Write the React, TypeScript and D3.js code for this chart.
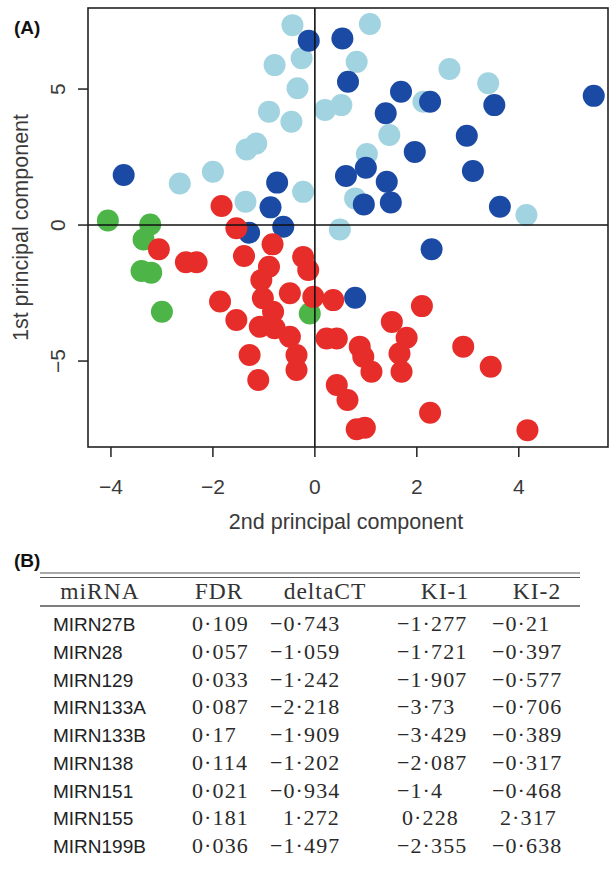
import React from "react";
import * as d3 from "d3";

// ---- Scatter data (2nd PC = x, 1st PC = y) ----
const lightBlueX = [-0.44, -0.26, -0.79, -0.34, -0.90, -0.46, -1.15, -1.34, -2.00, -2.65, -0.23, -1.36, 1.08, 0.82, 2.64, 3.40, 0.20, 0.52, 2.13, 1.46, 1.02, 0.79, 4.15, 0.49];
const lightBlueY = [7.35, 6.13, 5.88, 5.03, 4.17, 3.80, 3.00, 2.78, 1.96, 1.53, 1.22, 0.86, 7.39, 6.00, 5.74, 5.21, 4.23, 4.41, 4.53, 3.31, 2.61, 0.98, 0.37, -0.16];

const darkBlueX = [-0.12, 0.54, 0.65, 1.69, 2.26, 3.52, 5.47, 1.39, 2.98, 1.96, 3.10, 0.61, 1.00, 1.41, 0.96, 1.49, 3.63, 2.29, 0.79, -3.75, -0.74, -0.87, -0.62, -1.29];
const darkBlueY = [6.78, 6.86, 5.27, 4.90, 4.53, 4.41, 4.75, 4.11, 3.28, 2.69, 1.99, 1.80, 2.11, 1.59, 0.76, 0.83, 0.67, -0.89, -2.67, 1.84, 1.56, 0.65, -0.06, -0.28];

const redX = [-1.83, -1.54, -3.06, -2.53, -2.32, -1.39, -0.83, -0.23, -0.13, -0.90, -1.05, -1.02, -0.49, -0.03, -1.86, -1.54, -0.82, -1.08, -0.79, -0.49, -0.36, -0.36, -1.28, -1.11, 0.36, 2.10, 1.51, 1.80, 0.23, 0.43, 0.88, 0.95, 1.11, 1.66, 1.70, 2.91, 3.45, 0.43, 0.64, 2.26, 0.82, 0.98, 4.17];
const redY = [0.70, -0.12, -0.89, -1.37, -1.37, -1.14, -0.71, -1.17, -1.65, -1.53, -2.02, -2.69, -2.51, -2.64, -2.81, -3.49, -3.19, -3.74, -3.79, -4.11, -4.78, -5.33, -4.78, -5.70, -2.76, -2.98, -3.56, -4.14, -4.17, -4.17, -4.47, -4.84, -5.39, -4.72, -5.39, -4.47, -5.21, -5.88, -6.43, -6.90, -7.51, -7.45, -7.54];

const greenX = [-4.06, -3.23, -3.36, -3.40, -3.21, -3.00, -0.10];
const greenY = [0.17, 0.02, -0.53, -1.69, -1.75, -3.19, -3.25];

const xTicks = [-4, -2, 0, 2, 4];
const yTicks = [-5, 0, 5];

// ---- Table data ----
const tableHeaders = ["miRNA", "FDR", "deltaCT", "KI-1", "KI-2"];
const mirna = ["MIRN27B", "MIRN28", "MIRN129", "MIRN133A", "MIRN133B", "MIRN138", "MIRN151", "MIRN155", "MIRN199B"];
const fdr = [0.109, 0.057, 0.033, 0.087, 0.17, 0.114, 0.021, 0.181, 0.036];
const deltaCT = [-0.743, -1.059, -1.242, -2.218, -1.909, -1.202, -0.934, 1.272, -1.497];
const ki1 = [-1.277, -1.721, -1.907, -3.73, -3.429, -2.087, -1.4, 0.228, -2.355];
const ki2 = [-0.21, -0.397, -0.577, -0.706, -0.389, -0.317, -0.468, 2.317, -0.638];

const COLORS = {
  lightBlue: "#a2d3e0",
  darkBlue: "#1b4aa4",
  red: "#e62d2a",
  green: "#4db548",
};

const fmt = (v: number) => String(v).replace("-", "\u2212").replace(".", "\u00b7");

export default function App() {
  const W = 610;
  const H = 878;
  const left = 88, right = 608, top = 8, bottom = 447;

  const x = d3.scaleLinear().domain([-4.45, 5.75]).range([left, right]);
  const y = d3.scaleLinear().domain([-8.16, 7.98]).range([bottom, top]);

  const R = 11;
  const series = [
    { xs: lightBlueX, ys: lightBlueY, color: COLORS.lightBlue },
    { xs: darkBlueX, ys: darkBlueY, color: COLORS.darkBlue },
    { xs: greenX, ys: greenY, color: COLORS.green },
    { xs: redX, ys: redY, color: COLORS.red },
  ];

  const sans = "Liberation Sans, Arial, Helvetica, sans-serif";
  const serif = "Liberation Serif, Times New Roman, serif";
  const axisColor = "#3a3a3a";

  // table layout
  const tLeft = 40, tRight = 580;
  const headerY = 599;
  const rowY0 = 631;
  const rowStep = 27.75;
  const colStart = [53, 192, 270, 397, 492];
  const colHeaderCenter = [100, 219, 325, 445, 537];
  const posIndent = [0, 0, 13, 5, 8];
  const valueCols = [fdr, deltaCT, ki1, ki2];

  return (
    <svg width={W} height={H} style={{ position: "absolute", left: 0, top: 0, background: "#fff" }}>
      <rect x={0} y={0} width={W} height={H} fill="#fff" />
      {/* Panel A label */}
      <text x={14} y={34} fontFamily={sans} fontWeight="bold" fontSize={19} fill="#111">(A)</text>

      <defs>
        <clipPath id="plotclip">
          <rect x={left} y={top} width={right - left} height={bottom - top} />
        </clipPath>
      </defs>

      {/* points */}
      <g clipPath="url(#plotclip)">
        {series.map((s, si) =>
          s.xs.map((vx, i) => (
            <circle key={si + "-" + i} cx={x(vx)} cy={y(s.ys[i])} r={R} fill={s.color} />
          ))
        )}
      </g>

      {/* zero lines */}
      <line x1={x(0)} x2={x(0)} y1={top} y2={bottom} stroke="#111" strokeWidth={1.6} />
      <line x1={left} x2={right} y1={y(0)} y2={y(0)} stroke="#111" strokeWidth={1.6} />

      {/* frame */}
      <rect x={left} y={top} width={right - left} height={bottom - top} fill="none" stroke="#222" strokeWidth={1.6} />

      {/* x axis */}
      {xTicks.map((t) => (
        <g key={"xt" + t}>
          <line x1={x(t)} x2={x(t)} y1={bottom} y2={bottom + 10} stroke="#222" strokeWidth={1.5} />
          <text x={x(t)} y={494} textAnchor="middle" fontFamily={sans} fontSize={21} fill={axisColor}>
            {fmt(t)}
          </text>
        </g>
      ))}
      <text x={(left + right) / 2 - 2} y={529} textAnchor="middle" fontFamily={sans} fontSize={21.5} fill={axisColor}>
        2nd principal component
      </text>

      {/* y axis */}
      {yTicks.map((t) => (
        <g key={"yt" + t}>
          <line x1={left - 10} x2={left} y1={y(t)} y2={y(t)} stroke="#222" strokeWidth={1.5} />
          <text
            transform={`translate(${65},${y(t)}) rotate(-90)`}
            textAnchor="middle"
            fontFamily={sans}
            fontSize={21}
            fill={axisColor}
          >
            {fmt(t)}
          </text>
        </g>
      ))}
      <text
        transform={`translate(${28},${(top + bottom) / 2}) rotate(-90)`}
        textAnchor="middle"
        fontFamily={sans}
        fontSize={21.5}
        fill={axisColor}
      >
        1st principal component
      </text>

      {/* Panel B */}
      <text x={14} y={567} fontFamily={sans} fontWeight="bold" fontSize={19} fill="#111">(B)</text>
      <line x1={tLeft} x2={tRight} y1={573} y2={573} stroke="#555" strokeWidth={1.2} />
      <line x1={tLeft} x2={tRight} y1={577.5} y2={577.5} stroke="#555" strokeWidth={1.2} />
      {tableHeaders.map((h, i) => (
        <text key={"h" + h} x={colHeaderCenter[i]} y={headerY} textAnchor="middle" fontFamily={serif} fontSize={23.5} letterSpacing={1} fill="#333">
          {h}
        </text>
      ))}
      <line x1={tLeft} x2={tRight} y1={606} y2={606} stroke="#555" strokeWidth={1.4} />
      {mirna.map((m, r) => (
        <g key={"row" + m}>
          <text x={colStart[0]} y={rowY0 + r * rowStep} fontFamily={sans} fontSize={19} fill="#222">{m}</text>
          {valueCols.map((col, c) => (
            <text
              key={"c" + c}
              x={colStart[c + 1] + (col[r] >= 0 ? posIndent[c + 1] : 0)}
              y={rowY0 + r * rowStep}
              fontFamily={serif}
              fontSize={22}
              letterSpacing={1.1}
              fill="#2a2a2a"
            >
              {fmt(col[r])}
            </text>
          ))}
        </g>
      ))}
    </svg>
  );
}
